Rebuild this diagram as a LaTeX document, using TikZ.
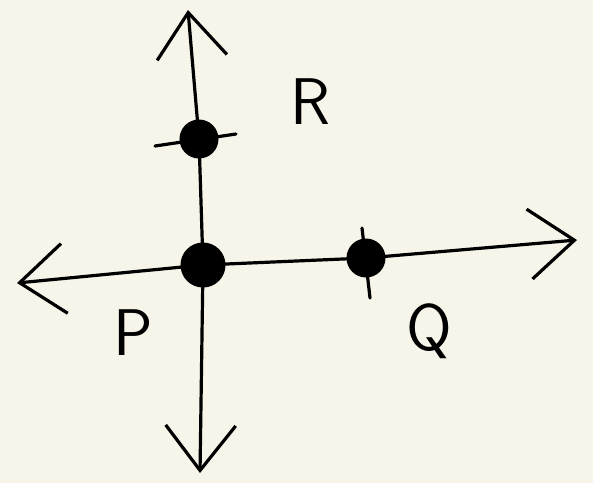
\documentclass[tikz,border=0pt]{standalone}
\usepackage{fontspec}
\setmainfont{DejaVu Sans}
\usetikzlibrary{arrows.meta}
\definecolor{paper}{HTML}{F7F5E9}
\tikzset{
  stroke/.style={line width=3.2pt, line cap=round, line join=round, black},
  axis/.style={stroke, -{Straight Barb[length=45pt, width=70pt, line width=3.2pt]}},
  dot/.style={circle, fill=black, draw=black, line width=3pt, inner sep=0pt, minimum size=#1},
  lbl/.style={font=\fontsize{66}{66}\selectfont\sffamily, text=black}
}
\begin{document}
\begin{tikzpicture}[x=1pt,y=-1pt]
\fill[paper] (0,0) rectangle (593,483);
\useasboundingbox (0,0) rectangle (593,483);
% points
\node[dot=42pt] (P) at (203,265) {};
\node[dot=36pt] (Q) at (366,258) {};
\node[dot=36pt] (R) at (199,139) {};
% axis ends
\coordinate (L) at (17,283);
\coordinate (Rt) at (577,240);
\coordinate (T) at (188,10);
\coordinate (B) at (200,473);
% axes
\draw[axis] (P.center) -- (L);
\draw[stroke] (P.center) -- (Q.center);
\draw[axis] (Q.center) -- (Rt);
\draw[axis] (R.center) -- (T);
\draw[stroke] (P.center) -- (R.center);
\draw[axis] (P.center) -- (B);
% ticks
\coordinate (RtL) at (155,146);
\coordinate (RtR) at (236,134);
\draw[stroke] (RtL) -- (RtR);
\coordinate (QtT) at (362,228);
\coordinate (QtB) at (370,298);
\draw[stroke] (QtT) -- (QtB);
% labels
\node[lbl] (labR) at (310,102) {R};
\node[lbl] (labP) at (133,333) {P};
\node[lbl] (labQ) at (429,331) {Q};
\end{tikzpicture}
\end{document}
